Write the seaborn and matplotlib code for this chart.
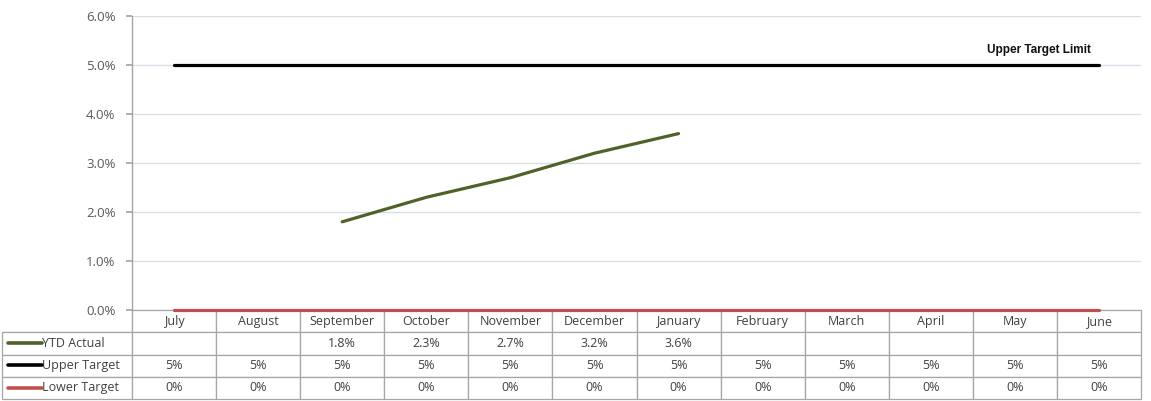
import numpy as np
import pandas as pd
import seaborn as sns
import matplotlib.pyplot as plt
from matplotlib.lines import Line2D

months = ["July", "August", "September", "October", "November", "December",
          "January", "February", "March", "April", "May", "June"]
ytd_actual = [None, None, 1.8, 2.3, 2.7, 3.2, 3.6, None, None, None, None, None]
upper_target = [5] * 12
lower_target = [0] * 12
series_names = ["YTD Actual", "Upper Target", "Lower Target"]
series_colors = ["#4F6228", "#000000", "#C0504D"]


def visualize():
    sns.set_theme(style="white")
    plt.rcParams["font.family"] = ["Open Sans", "DejaVu Sans"]

    x = np.arange(len(months))
    df = pd.DataFrame({
        "pos": x,
        "YTD Actual": pd.array(ytd_actual, dtype="Float64"),
        "Upper Target": upper_target,
        "Lower Target": lower_target,
    })

    fig = plt.figure(figsize=(11.51, 4.01), dpi=100)
    ax = fig.add_axes([132 / 1151, 1 - 310 / 401, 1009 / 1151, 294 / 401])

    for name, color in zip(series_names, series_colors):
        d = df[["pos", name]].dropna()
        sns.lineplot(x=d["pos"], y=d[name].astype(float), color=color,
                     linewidth=2.3, ax=ax, clip_on=False, zorder=3)

    ax.set_xlim(-0.5, len(months) - 0.5)
    ax.set_ylim(0, 6)
    ax.set_yticks(np.arange(0, 7, 1))
    ax.set_yticklabels([f"{v:.1f}%" for v in np.arange(0, 7, 1)],
                       fontsize=9.5, color="#595959")
    ax.set_xticks([])
    ax.set_xlabel("")
    ax.set_ylabel("")
    ax.grid(axis="y", color="#D9DDE8", linewidth=1)
    ax.tick_params(axis="y", length=4, color="#A6A6A6", pad=8, left=True)
    for s in ["top", "right", "bottom"]:
        ax.spines[s].set_visible(False)
    ax.spines["left"].set_color("#A6A6A6")
    ax.spines["left"].set_linewidth(1)

    ax.text(10.29, 5.3, "Upper Target Limit", fontsize=8.5, fontweight="bold",
            family=["Liberation Sans Narrow", "Liberation Sans", "DejaVu Sans"],
            ha="center", va="center", color="#111111")

    # data table under the chart
    cell_text = [
        [""] + ["" if v is None else f"{v:.1f}%" for v in ytd_actual],
        [""] + [f"{v:.0f}%" for v in upper_target],
        [""] + [f"{v:.0f}%" for v in lower_target],
    ]
    col_w = [130] + [1009 / 12] * 12
    total = sum(col_w)
    tbl = ax.table(cellText=cell_text, colLabels=[""] + months,
                   colWidths=[w / total for w in col_w],
                   cellLoc="center",
                   bbox=[(2 - 132) / 1009, (310 - 399) / 294, total / 1009, 89 / 294])
    tbl.auto_set_font_size(False)
    tbl.set_fontsize(9)
    for (r, c), cell in tbl.get_celld().items():
        cell.set_edgecolor("#A6A6A6")
        cell.set_linewidth(0.9)
        cell.get_text().set_color("#404040")
        if r == 0 and c == 0:
            cell.visible_edges = "BR"
        elif c == 0:
            cell.get_text().set_text(series_names[r - 1])
            cell.get_text().set_ha("left")
            cell._loc = "left"
            cell.PAD = 0.31

    # legend keys inside the row-label cells
    for i, color in enumerate(series_colors):
        yc = (310 - (332 + 22.3 * i + 11)) / 294
        ax.add_line(Line2D([(8 - 132) / 1009, (42 - 132) / 1009], [yc, yc],
                           color=color, linewidth=2.6, transform=ax.transAxes,
                           clip_on=False))

    fig.savefig("out.png", dpi=100)
    plt.close(fig)


if __name__ == "__main__":
    visualize()
